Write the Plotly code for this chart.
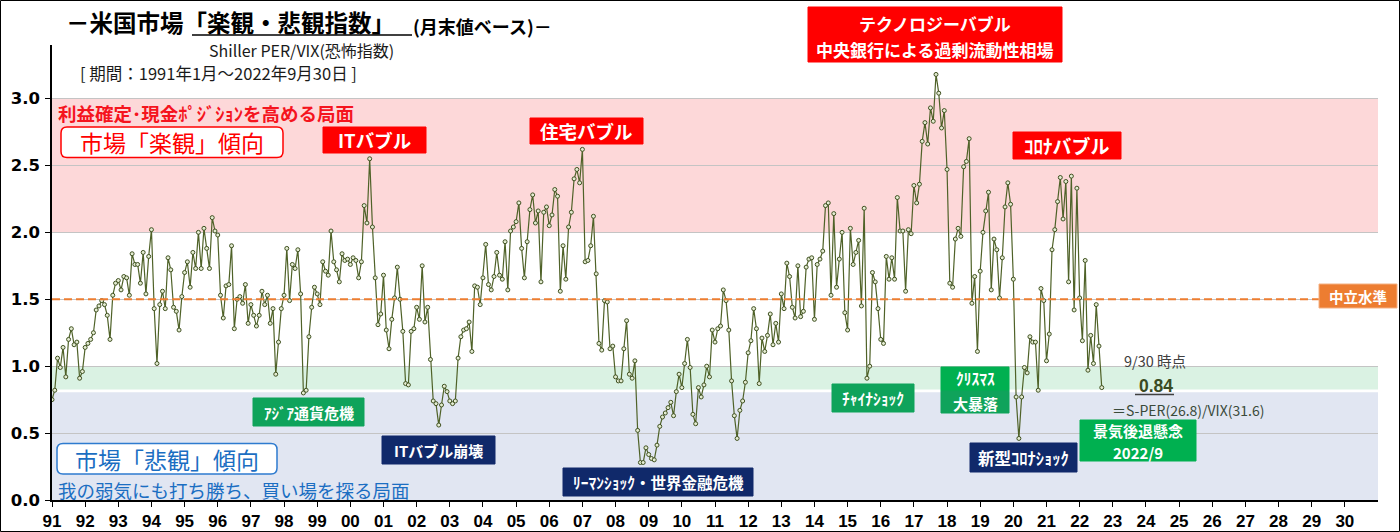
import plotly.graph_objects as go

# ---- data: monthly Shiller PER / VIX (month-end), Jan 1991 - Sep 2022 ----
v1991 = [0.75, 0.82, 1.06, 0.99, 1.14, 0.92, 1.20, 1.28, 1.16, 1.18, 0.91, 0.96]
v1992 = [1.14, 1.17, 1.20, 1.25, 1.42, 1.45, 1.49, 1.46, 1.38, 1.20, 1.53, 1.62]
v1993 = [1.64, 1.57, 1.67, 1.66, 1.53, 1.84, 1.76, 1.76, 1.62, 1.85, 1.54, 1.82]
v1994 = [2.02, 1.43, 1.02, 1.46, 1.56, 1.43, 1.81, 1.72, 1.44, 1.41, 1.27, 1.52]
v1995 = [1.70, 1.78, 1.59, 1.85, 1.73, 2.00, 1.73, 2.03, 1.88, 1.73, 2.11, 2.01]
v1996 = [1.98, 1.53, 1.36, 1.60, 1.61, 1.90, 1.28, 1.50, 1.52, 1.47, 1.61, 1.32]
v1997 = [1.46, 1.38, 1.30, 1.38, 1.56, 1.46, 1.53, 1.32, 1.43, 0.94, 1.18, 1.43]
v1998 = [1.53, 1.88, 1.49, 1.76, 1.73, 1.87, 1.54, 0.80, 0.82, 1.22, 1.44, 1.59]
v1999 = [1.54, 1.46, 1.78, 1.71, 1.68, 2.01, 1.78, 1.72, 1.63, 1.84, 1.79, 1.80]
v2000 = [1.76, 1.81, 1.79, 1.66, 1.78, 2.20, 2.07, 2.55, 2.04, 1.66, 1.31, 1.39]
v2001 = [1.68, 1.27, 1.13, 1.35, 1.51, 1.74, 1.50, 1.26, 0.87, 0.86, 1.26, 1.28]
v2002 = [1.44, 1.35, 1.75, 1.33, 1.44, 1.05, 0.74, 0.72, 0.56, 0.71, 0.85, 0.81]
v2003 = [0.74, 0.72, 0.74, 1.06, 1.22, 1.27, 1.28, 1.33, 1.11, 1.60, 1.59, 1.46]
v2004 = [1.66, 1.91, 1.61, 1.57, 1.67, 1.85, 1.68, 1.65, 1.93, 1.57, 2.01, 2.04]
v2005 = [2.08, 2.22, 1.88, 1.66, 1.93, 2.17, 2.28, 2.07, 2.16, 1.63, 2.15, 2.19]
v2006 = [2.05, 2.13, 2.32, 2.27, 1.56, 1.90, 1.65, 2.04, 2.15, 2.40, 2.47, 2.37]
v2007 = [2.62, 1.78, 1.79, 1.90, 2.12, 1.69, 1.17, 1.12, 1.49, 1.48, 1.13, 1.15]
v2008 = [0.92, 0.89, 0.89, 1.13, 1.34, 0.94, 0.91, 1.04, 0.52, 0.28, 0.28, 0.39]
v2009 = [0.34, 0.31, 0.30, 0.41, 0.55, 0.62, 0.65, 0.69, 0.73, 0.63, 0.81, 0.94]
v2010 = [0.84, 1.02, 1.20, 0.99, 0.64, 0.57, 0.84, 0.77, 0.86, 1.00, 0.92, 1.27]
v2011 = [1.18, 1.28, 1.30, 1.57, 1.49, 1.27, 0.89, 0.63, 0.46, 0.67, 0.74, 0.88]
v2012 = [1.10, 1.19, 1.43, 1.28, 0.87, 1.21, 1.11, 1.23, 1.39, 1.16, 1.32, 1.18]
v2013 = [1.54, 1.43, 1.77, 1.67, 1.44, 1.36, 1.75, 1.37, 1.41, 1.74, 1.80, 1.81]
v2014 = [1.35, 1.76, 1.80, 1.86, 2.20, 2.22, 1.53, 2.14, 1.59, 1.80, 2.00, 1.40]
v2015 = [1.27, 2.03, 1.76, 1.85, 1.94, 1.45, 2.18, 0.91, 1.00, 1.70, 1.63, 1.43]
v2016 = [1.20, 1.17, 1.82, 1.65, 1.81, 1.65, 2.26, 2.01, 2.01, 1.56, 2.02, 1.99]
v2017 = [2.35, 2.22, 2.36, 2.68, 2.82, 2.66, 2.93, 2.83, 3.18, 3.04, 2.78, 2.91]
v2018 = [2.47, 1.62, 1.59, 1.95, 2.03, 1.97, 2.49, 2.53, 2.70, 1.47, 1.67, 1.11]
v2019 = [1.71, 2.00, 2.16, 2.30, 1.57, 1.95, 1.87, 1.51, 1.81, 2.19, 2.37, 2.21]
v2020 = [1.65, 0.77, 0.46, 0.77, 0.99, 0.95, 1.22, 1.18, 1.18, 0.82, 1.58, 1.49]
v2021 = [1.04, 1.24, 1.87, 2.02, 2.23, 2.41, 2.10, 2.38, 1.63, 2.42, 1.42, 2.33]
v2022 = [1.51, 1.19, 1.79, 0.97, 1.23, 1.02, 1.46, 1.15, 0.84]

start_year = 1991
tick_years = list(range(1991, 2031))
tick_labels = ["91", "92", "93", "94", "95", "96", "97", "98", "99", "00",
               "01", "02", "03", "04", "05", "06", "07", "08", "09", "10",
               "11", "12", "13", "14", "15", "16", "17", "18", "19", "20",
               "21", "22", "23", "24", "25", "26", "27", "28", "29", "30"]
y_ticks = [0.0, 0.5, 1.0, 1.5, 2.0, 2.5, 3.0]
y_tick_labels = ["0.0", "0.5", "1.0", "1.5", "2.0", "2.5", "3.0"]

values = (v1991 + v1992 + v1993 + v1994 + v1995 + v1996 + v1997 + v1998 + v1999 +
          v2000 + v2001 + v2002 + v2003 + v2004 + v2005 + v2006 + v2007 + v2008 +
          v2009 + v2010 + v2011 + v2012 + v2013 + v2014 + v2015 + v2016 + v2017 +
          v2018 + v2019 + v2020 + v2021 + v2022)
xs = [start_year + i / 12 for i in range(len(values))]

# ---- layout geometry ----
W, H = 1400, 532
ML, MR, MT, MB = 52, 22, 45, 32
PW, PH = W - ML - MR, H - MT - MB


def px(x):
    return (x - ML) / PW


def py(y):
    return (H - MB - y) / PH


JP = "Noto Sans CJK JP"
LAT = "Liberation Sans"

fig = go.Figure()
fig.add_trace(go.Scatter(
    x=xs, y=values, mode="lines+markers",
    line=dict(color="#4f6228", width=1.2),
    marker=dict(symbol="circle", size=4, color="#e4ecd2",
                line=dict(color="#3f5020", width=1)),
    showlegend=False, hoverinfo="skip"))

shapes = []
# bands
shapes.append(dict(type="rect", xref="x", yref="y", x0=1991, x1=2031, y0=0, y1=0.805,
                   fillcolor="#e1e6f2", line=dict(width=0), layer="below"))
shapes.append(dict(type="rect", xref="x", yref="y", x0=1991, x1=2031, y0=0.825, y1=1.0,
                   fillcolor="#daf2e3", line=dict(width=0), layer="below"))
shapes.append(dict(type="rect", xref="x", yref="y", x0=1991, x1=2031, y0=2.0, y1=3.0,
                   fillcolor="#fdd8d9", line=dict(width=0), layer="below"))
# neutral dashed line
shapes.append(dict(type="line", xref="x", yref="y", x0=1991, x1=1991 + (1320 - ML) / PW * 40,
                   y0=1.5, y1=1.5, line=dict(color="#ed7d31", width=2, dash="8px,4px"),
                   layer="above"))
# title underline
shapes.append(dict(type="line", xref="paper", yref="paper", x0=px(192), x1=px(412),
                   y0=py(35), y1=py(35), line=dict(color="#000000", width=1.3)))
# 0.84 underline
shapes.append(dict(type="line", xref="paper", yref="paper", x0=px(1135), x1=px(1174),
                   y0=py(394.5), y1=py(394.5), line=dict(color="#404040", width=1.5)))
# outer frame
shapes.append(dict(type="rect", xref="paper", yref="paper", x0=px(0.5), x1=px(1399.5),
                   y0=py(531.5), y1=py(0.5), line=dict(color="#000000", width=1)))


def rounded(x0, y0, x1, y1, r, color, fill="white", width=1.5):
    p = (f"M {px(x0 + r)},{py(y0)} L {px(x1 - r)},{py(y0)} Q {px(x1)},{py(y0)} {px(x1)},{py(y0 + r)} "
         f"L {px(x1)},{py(y1 - r)} Q {px(x1)},{py(y1)} {px(x1 - r)},{py(y1)} "
         f"L {px(x0 + r)},{py(y1)} Q {px(x0)},{py(y1)} {px(x0)},{py(y1 - r)} "
         f"L {px(x0)},{py(y0 + r)} Q {px(x0)},{py(y0)} {px(x0 + r)},{py(y0)} Z")
    return dict(type="path", xref="paper", yref="paper", path=p, fillcolor=fill,
                line=dict(color=color, width=width), layer="above")


shapes.append(rounded(61, 127, 283, 157.5, 6, "#ff0000"))
shapes.append(rounded(57, 443.5, 277, 474, 6, "#2e7bcf"))

annotations = []


def text(x, y, s, size, color, anchor="left", weight="normal", family=JP):
    annotations.append(dict(x=px(x), y=py(y), xref="paper", yref="paper", text=s,
                            showarrow=False, xanchor=anchor, yanchor="middle",
                            font=dict(family=family, size=size, color=color, weight=weight)))


def rect(x0, y0, x1, y1, bg, border=None):
    shapes.append(dict(type="rect", xref="paper", yref="paper", x0=px(x0), x1=px(x1),
                       y0=py(y1), y1=py(y0), fillcolor=bg,
                       line=dict(color=border or bg, width=1), layer="above"))


def box(x0, y0, x1, y1, lines, size, bg, fg="white", border=None, weight="bold"):
    rect(x0, y0, x1, y1, bg, border)
    cx = (x0 + x1) / 2
    for (s, yy) in lines:
        text(cx, yy, s, size, fg, anchor="center", weight=weight)


# titles
text(64, 22.5, "－米国市場「楽観・悲観指数」", 23.5, "#000000", weight="bold")
text(411, 26.5, "(月末値ベース)－", 18, "#000000", weight="bold")
text(207, 50.5, "Shiller PER/VIX(恐怖指数)", 16, "#1a1a1a")
text(78, 73, "[ 期間：1991年1月～2022年9月30日 ]", 16.5, "#1a1a1a")

# zone texts
text(56, 113, "利益確定･現金ﾎﾟｼﾞｼｮﾝを高める局面", 18.5, "#f5141e", weight="bold")
text(172, 142, "市場「楽観」傾向", 23, "#ff0000", anchor="center")
text(167, 459, "市場「悲観」傾向", 23, "#1b6ec2", anchor="center")
text(56, 490, "我の弱気にも打ち勝ち、買い場を探る局面", 18.5, "#1b6ec2")

# event boxes
box(323, 127, 426, 153, [("ITバブル", 140)], 18.5, "#ff0000")
box(530, 118, 643, 144, [("住宅バブル", 131)], 18.5, "#ff0000")
box(808, 7, 1062, 62, [("テクノロジーバブル", 24), ("中央銀行による過剰流動性相場", 50)], 17, "#ff0000")
box(1013, 132, 1121, 159, [("ｺﾛﾅバブル", 145.5)], 19, "#ff0000")
box(1319, 284, 1397, 308, [("中立水準", 296)], 14.5, "#ed7d31", border="#f4b183")
box(253, 398, 364, 426, [("ｱｼﾞｱ通貨危機", 412)], 15, "#0fa35b")
box(382, 436, 495, 464, [("ITバブル崩壊", 450)], 15, "#10296a")
box(563, 468, 753, 496, [("ﾘｰﾏﾝｼｮｯｸ・世界金融危機", 482)], 15.5, "#10296a")
box(832, 384, 914, 412, [("ﾁｬｲﾅｼｮｯｸ", 398)], 15.5, "#0fa35b")
box(941, 367, 1009, 391, [("ｸﾘｽﾏｽ", 378)], 15.5, "#00b050")
box(941, 391, 1009, 413, [("大暴落", 403)], 15, "#0fa35b")
box(970, 443, 1077, 472, [("新型ｺﾛﾅｼｮｯｸ", 457.5)], 16.5, "#10296a")
box(1080, 420, 1196, 461, [("景気後退懸念", 430), ("2022/9", 452)], 15, "#00b050")

# latest value notes
text(1155, 360, "9/30 時点", 14.5, "#404040", anchor="center")
text(1156, 386, "0.84", 17.5, "#3a4a22", anchor="center", weight="bold", family=LAT)
text(1188, 410, "＝S-PER(26.8)/VIX(31.6)", 14, "#3a4a3a", anchor="center")

fig.update_layout(
    width=W, height=H, margin=dict(l=ML, r=MR, t=MT, b=MB, pad=0, autoexpand=False),
    paper_bgcolor="white", plot_bgcolor="white",
    shapes=shapes, annotations=annotations, showlegend=False,
    xaxis=dict(range=[1991, 2031], tickmode="array", tickvals=tick_years, ticktext=tick_labels,
               showgrid=False, zeroline=False, showline=True, linecolor="#000000", linewidth=1.5,
               ticks="outside", ticklen=5, tickcolor="#000000", automargin=False,
               tickfont=dict(family=LAT, size=17, color="#000000", weight="bold")),
    yaxis=dict(range=[0, 3.4], tickmode="array", tickvals=y_ticks, ticktext=y_tick_labels,
               showgrid=True, gridcolor="#c4c4c4", gridwidth=1, zeroline=False,
               showline=True, linecolor="#000000", linewidth=1.5, automargin=False,
               ticks="outside", ticklen=5, tickcolor="#000000", ticklabelstandoff=2,
               tickfont=dict(family="DejaVu Sans", size=16.5, color="#000000", weight="bold")),
)

fig.write_html("out.html",
               config={"displayModeBar": False},
               post_script="document.body.style.margin='0px';"
                           "document.documentElement.style.overflow='hidden';")
